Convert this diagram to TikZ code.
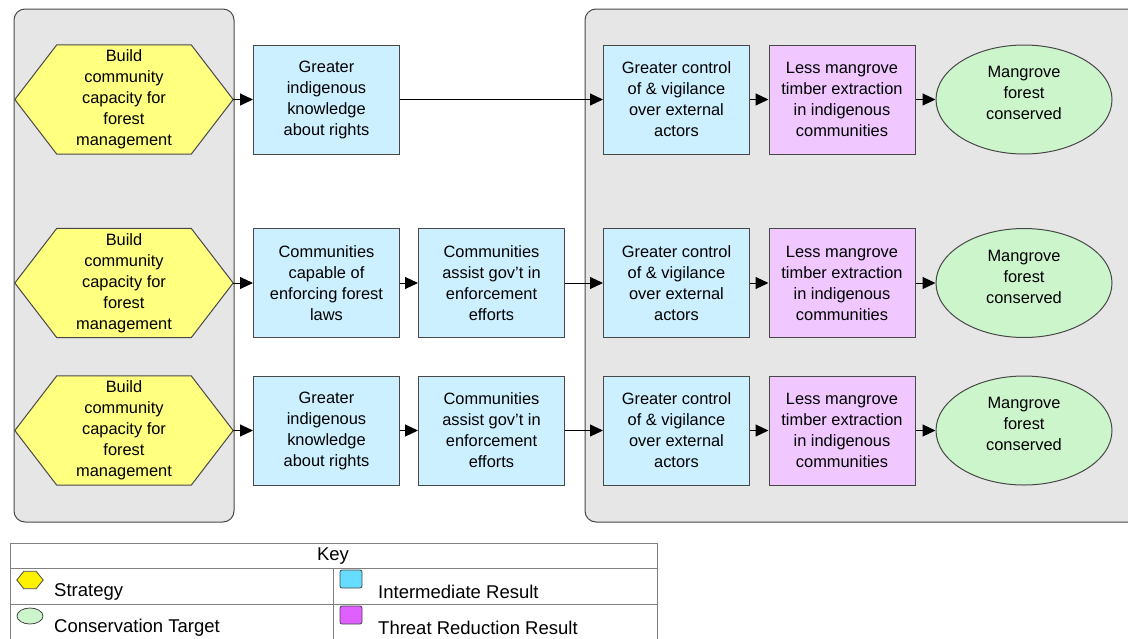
\documentclass[tikz,border=0pt]{standalone}
\usepackage{fontspec}
\setmainfont{Liberation Sans}
\usetikzlibrary{arrows.meta,calc,shapes.geometric}
\definecolor{contgray}{HTML}{E6E6E6}
\definecolor{hexfill}{HTML}{FFFF80}
\definecolor{irfill}{HTML}{CCF0FF}
\definecolor{trfill}{HTML}{F0C8FF}
\definecolor{ctfill}{HTML}{CCF5CC}
\definecolor{edge}{HTML}{484848}
\definecolor{keycyan}{HTML}{66DDFF}
\definecolor{keymag}{HTML}{E060FF}
\tikzset{
  txt/.style={font=\fontsize{16.4}{21}\selectfont, align=center, inner sep=0pt},
  hexbox/.style={txt, minimum width=218pt, minimum height=109pt},
  hexline/.style={draw=edge, fill=hexfill, line width=1pt},
  irbox/.style={txt, draw=edge, fill=irfill, line width=1pt, minimum width=146pt, minimum height=109pt},
  trbox/.style={txt, draw=edge, fill=trfill, line width=1pt, minimum width=146pt, minimum height=109pt},
  ctbox/.style={txt, ellipse, draw=edge, fill=ctfill, line width=1pt, minimum width=176pt, minimum height=109pt},
  container/.style={draw=edge, fill=contgray, line width=1pt, rounded corners=11pt},
  arr/.style={line width=1pt, -{Triangle[length=13pt,width=12pt]}},
  keyline/.style={draw=gray, line width=0.8pt},
  keytxt/.style={font=\fontsize{18.5}{21}\selectfont, inner sep=0pt, anchor=west},
}
\begin{document}
\begin{tikzpicture}[x=1pt,y=-1pt]
\useasboundingbox (0,0) rectangle (1128,638);
\fill[white] (0,0) rectangle (1128,638);
% containers
\draw[container] (14,9) rectangle (234,522);
\draw[container] (585,9) rectangle (1145,522);
% strategies
\foreach \r/\y in {1/99.5,2/283,3/430.5}{
  \node[hexbox] (h\r) at (124,\y) {};
  \path[hexline] (h\r.west) -- ($(h\r.north west)+(42,0)$) -- ($(h\r.north east)+(-42,0)$) -- (h\r.east)
     -- ($(h\r.south east)+(-42,0)$) -- ($(h\r.south west)+(42,0)$) -- cycle;
  \node[hexbox] at (h\r) {Build\\community\\capacity for\\forest\\management};
}
% row 1
\node[irbox] (a1) at (326.5,99.5) {Greater\\indigenous\\knowledge\\about rights};
\node[irbox] (c1) at (676.5,99.5) {Greater control\\of \& vigilance\\over external\\actors};
\node[trbox] (d1) at (842,99.5) {Less mangrove\\timber extraction\\in indigenous\\communities};
\node[ctbox] (e1) at (1024,99.5) {Mangrove\\forest\\conserved\\[-8pt]};
% row 2
\node[irbox] (a2) at (326.5,283) {Communities\\capable of\\enforcing forest\\laws};
\node[irbox] (b2) at (491.5,283) {Communities\\assist gov't in\\enforcement\\efforts};
\node[irbox] (c2) at (676.5,283) {Greater control\\of \& vigilance\\over external\\actors};
\node[trbox] (d2) at (842,283) {Less mangrove\\timber extraction\\in indigenous\\communities};
\node[ctbox] (e2) at (1024,283) {Mangrove\\forest\\conserved\\[-8pt]};
% row 3
\node[irbox] (a3) at (326.5,430.5) {Greater\\indigenous\\knowledge\\about rights};
\node[irbox] (b3) at (491.5,430.5) {Communities\\assist gov't in\\enforcement\\efforts};
\node[irbox] (c3) at (676.5,430.5) {Greater control\\of \& vigilance\\over external\\actors};
\node[trbox] (d3) at (842,430.5) {Less mangrove\\timber extraction\\in indigenous\\communities};
\node[ctbox] (e3) at (1024,430.5) {Mangrove\\forest\\conserved\\[-8pt]};
% arrows
\draw[arr] (h1.east) -- (a1.west);
\draw[arr] (a1.east) -- (c1.west);
\draw[arr] (c1.east) -- (d1.west);
\draw[arr] (d1.east) -- (e1.west);
\draw[arr] (h2.east) -- (a2.west);
\draw[arr] (a2.east) -- (b2.west);
\draw[arr] (b2.east) -- (c2.west);
\draw[arr] (c2.east) -- (d2.west);
\draw[arr] (d2.east) -- (e2.west);
\draw[arr] (h3.east) -- (a3.west);
\draw[arr] (a3.east) -- (b3.west);
\draw[arr] (b3.east) -- (c3.west);
\draw[arr] (c3.east) -- (d3.west);
\draw[arr] (d3.east) -- (e3.west);
% key
\draw[keyline] (10,543) rectangle (657,650);
\draw[keyline] (10,568) -- (657,568);
\draw[keyline] (10,604) -- (657,604);
\draw[keyline] (333,568) -- (333,650);
\node[font=\fontsize{18.5}{21}\selectfont, inner sep=0pt] (keyt) at (333,556) {Key};
\node[inner sep=0pt, minimum width=26pt, minimum height=17pt] (ks) at (30,580) {};
\path[draw=edge, fill=yellow, line width=0.8pt] (ks.west) -- ($(ks.north west)+(7,0)$) -- ($(ks.north east)+(-7,0)$) -- (ks.east)
   -- ($(ks.south east)+(-7,0)$) -- ($(ks.south west)+(7,0)$) -- cycle;
\node[keytxt] (kst) at (54,592) {Strategy};
\node[ellipse, draw=edge, fill=ctfill, line width=0.8pt, inner sep=0pt, minimum width=26pt, minimum height=16pt] (kc) at (30,616) {};
\node[keytxt] (kct) at (54,628) {Conservation Target};
\node[draw=edge, fill=keycyan, line width=0.8pt, rounded corners=2pt, inner sep=0pt, minimum width=22pt, minimum height=18pt] (ki) at (351,579) {};
\node[keytxt] (kit) at (378,592) {Intermediate Result};
\node[draw=edge, fill=keymag, line width=0.8pt, rounded corners=2pt, inner sep=0pt, minimum width=22pt, minimum height=18pt] (kr) at (351,615) {};
\node[keytxt] (krt) at (378,628) {Threat Reduction Result};
\end{tikzpicture}
\end{document}
